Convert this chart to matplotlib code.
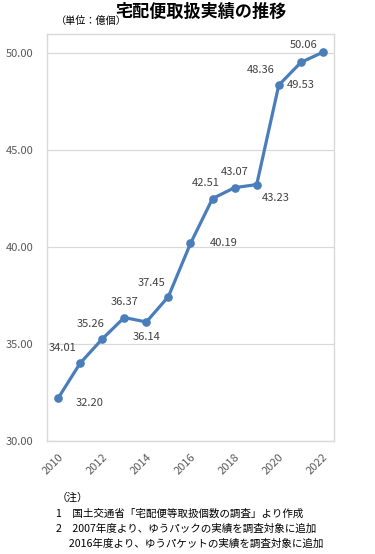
import matplotlib
matplotlib.use("Agg")
import matplotlib.pyplot as plt

plt.rcParams['font.family'] = ['Noto Sans CJK JP', 'DejaVu Sans']

years = [2010, 2011, 2012, 2013, 2014, 2015, 2016, 2017, 2018, 2019, 2020, 2021, 2022]
values = [32.20, 34.01, 35.26, 36.37, 36.14, 37.45, 40.19, 42.51, 43.07, 43.23, 48.36, 49.53, 50.06]
labels = ["32.20", "34.01", "35.26", "36.37", "36.14", "37.45", "40.19",
          "42.51", "43.07", "43.23", "48.36", "49.53", "50.06"]
yticks = [30, 35, 40, 45, 50]
xticks = [2010, 2012, 2014, 2016, 2018, 2020, 2022]
title = "宅配便取扱実績の推移"
unit = "（単位：億個）"
notes = ["（注）",
         "1　国土交通省「宅配便等取扱個数の調査」より作成",
         "2　2007年度より、ゆうパックの実績を調査対象に追加",
         "　 2016年度より、ゆうパケットの実績を調査対象に追加"]

# label offsets in points (styling)
offsets = [(23, -3), (-13, 11), (-8, 11), (0, 11), (0, -11), (-12, 10), (24, 0),
           (-5, 11), (0, 11), (14, -10), (-13, 11), (0, -16), (-14, 5)]

fig = plt.figure(figsize=(3.75, 5.54), dpi=100)
ax = fig.add_axes([0.1253, 0.204, 0.7653, 0.7347])

line_color = "#4a7ebb"
ax.plot(years, values, color=line_color, lw=2.3, marker="o", ms=5.2, zorder=3,
        solid_capstyle="round")

for x, y, lab, off in zip(years, values, labels, offsets):
    ax.annotate(lab, (x, y), xytext=off, textcoords="offset points",
                ha="center", va="center", fontsize=8, color="#404040")

ax.set_xlim(2009.5, 2022.5)
ax.set_ylim(30, 51)
ax.set_yticks(yticks)
ax.set_yticklabels([f"{v:.2f}" for v in yticks])
ax.set_xticks(xticks)
ax.set_xticklabels([str(v) for v in xticks], rotation=45, ha="right",
                   rotation_mode="anchor")
ax.tick_params(axis="both", length=0, labelsize=8, colors="#595959")
ax.tick_params(axis="y", pad=10)
ax.tick_params(axis="x", pad=8)
ax.yaxis.grid(True, color="#d9d9d9", lw=0.9)
ax.set_axisbelow(True)
for s in ax.spines.values():
    s.set_color("#d9d9d9")
    s.set_linewidth(1.0)

fig.text(0.536, 0.978, title, ha="center", va="center", fontsize=12.3,
         fontweight="bold", color="#000000")
fig.text(0.148, 0.962, unit, ha="left", va="center", fontsize=7.3, color="#000000")

y0 = 0.101
for i, n in enumerate(notes):
    fig.text(0.15, y0 - i * 0.0275, n, ha="left", va="center", fontsize=7.6,
             color="#000000")

fig.savefig("out.png", dpi=100)
